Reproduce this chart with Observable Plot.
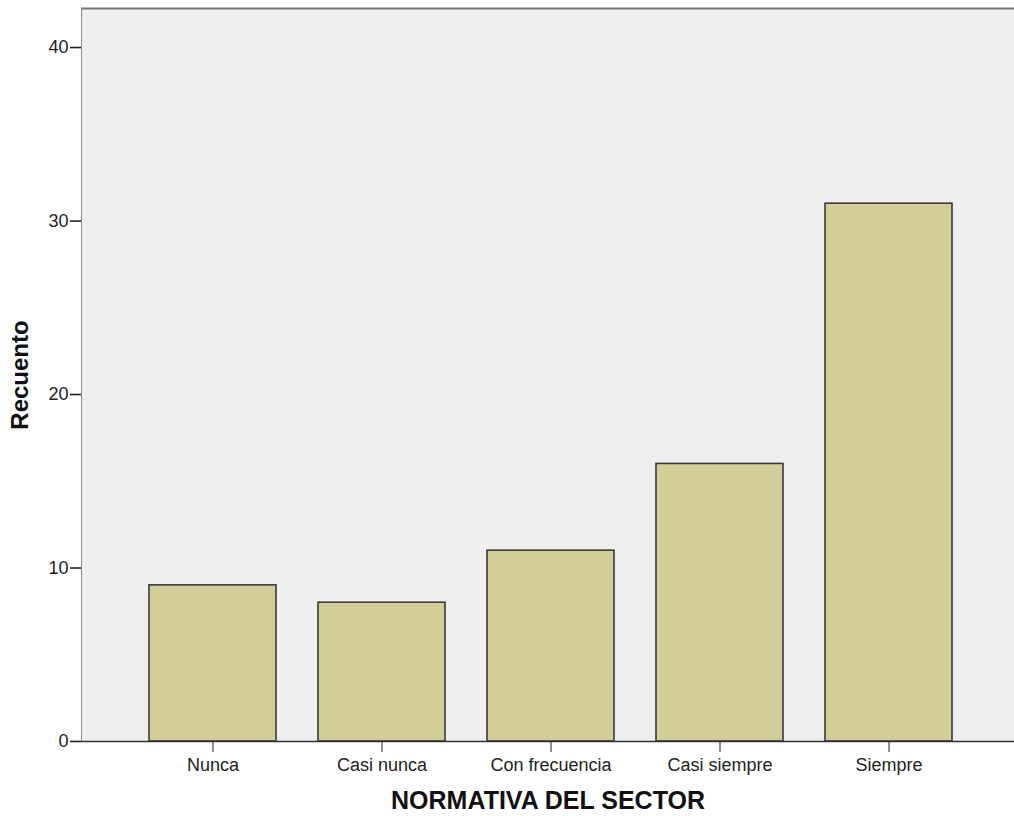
<!DOCTYPE html>
<html>
<head>
<meta charset="utf-8">
<script src="https://cdn.jsdelivr.net/npm/d3@7"></script>
<script src="https://cdn.jsdelivr.net/npm/@observablehq/plot@0.6"></script>
<style>
  html, body { margin: 0; padding: 0; background: #fff; }
  #chart svg { display: block; }
  #chart svg [aria-label="y-axis"] path, #chart svg [aria-label="y-axis tick"] path { stroke-width: 1.6; }
</style>
</head>
<body>
<div id="chart"></div>
<script>
const categories = ["Nunca", "Casi nunca", "Con frecuencia", "Casi siempre", "Siempre"];
const counts = [9, 8, 11, 16, 31];
const yTicks = [0, 10, 20, 30, 40];
const xTitle = "NORMATIVA DEL SECTOR";
const yTitle = "Recuento";

const data = categories.map((c, i) => ({category: c, count: counts[i]}));
const yMax = 42.25;

const chart = Plot.plot({
  width: 1014,
  height: 816,
  marginLeft: 81,
  marginRight: 0,
  marginTop: 8,
  marginBottom: 75,
  style: {fontFamily: "'Liberation Sans', Arial, sans-serif", fontSize: "18px", color: "#222", background: "#fff"},
  x: {domain: categories, paddingInner: 0.2485, paddingOuter: 0.3846, align: 0.52, label: null, tickSize: 11, tickPadding: 6},
  y: {domain: [0, yMax], ticks: yTicks, tickSize: 11, tickPadding: 2, label: null, line: true},
  marks: [
    Plot.frame({fill: "#efefef"}),
    Plot.ruleY([yMax], {stroke: "#777", strokeWidth: 2}),
    Plot.barY(data, {x: "category", y: "count", fill: "#d3ce97", stroke: "#3a3a3a", strokeWidth: 1.6}),
    Plot.ruleY([0], {stroke: "#333", strokeWidth: 1.6}),
    Plot.text([xTitle], {frameAnchor: "bottom", dy: 67, fontWeight: "bold", fontSize: 25, fill: "#111"}),
    Plot.text([yTitle], {frameAnchor: "left", dx: -61, rotate: -90, textAnchor: "middle", fontWeight: "bold", fontSize: 24, fill: "#111"})
  ]
});
document.getElementById("chart").appendChild(chart);
</script>
</body>
</html>
